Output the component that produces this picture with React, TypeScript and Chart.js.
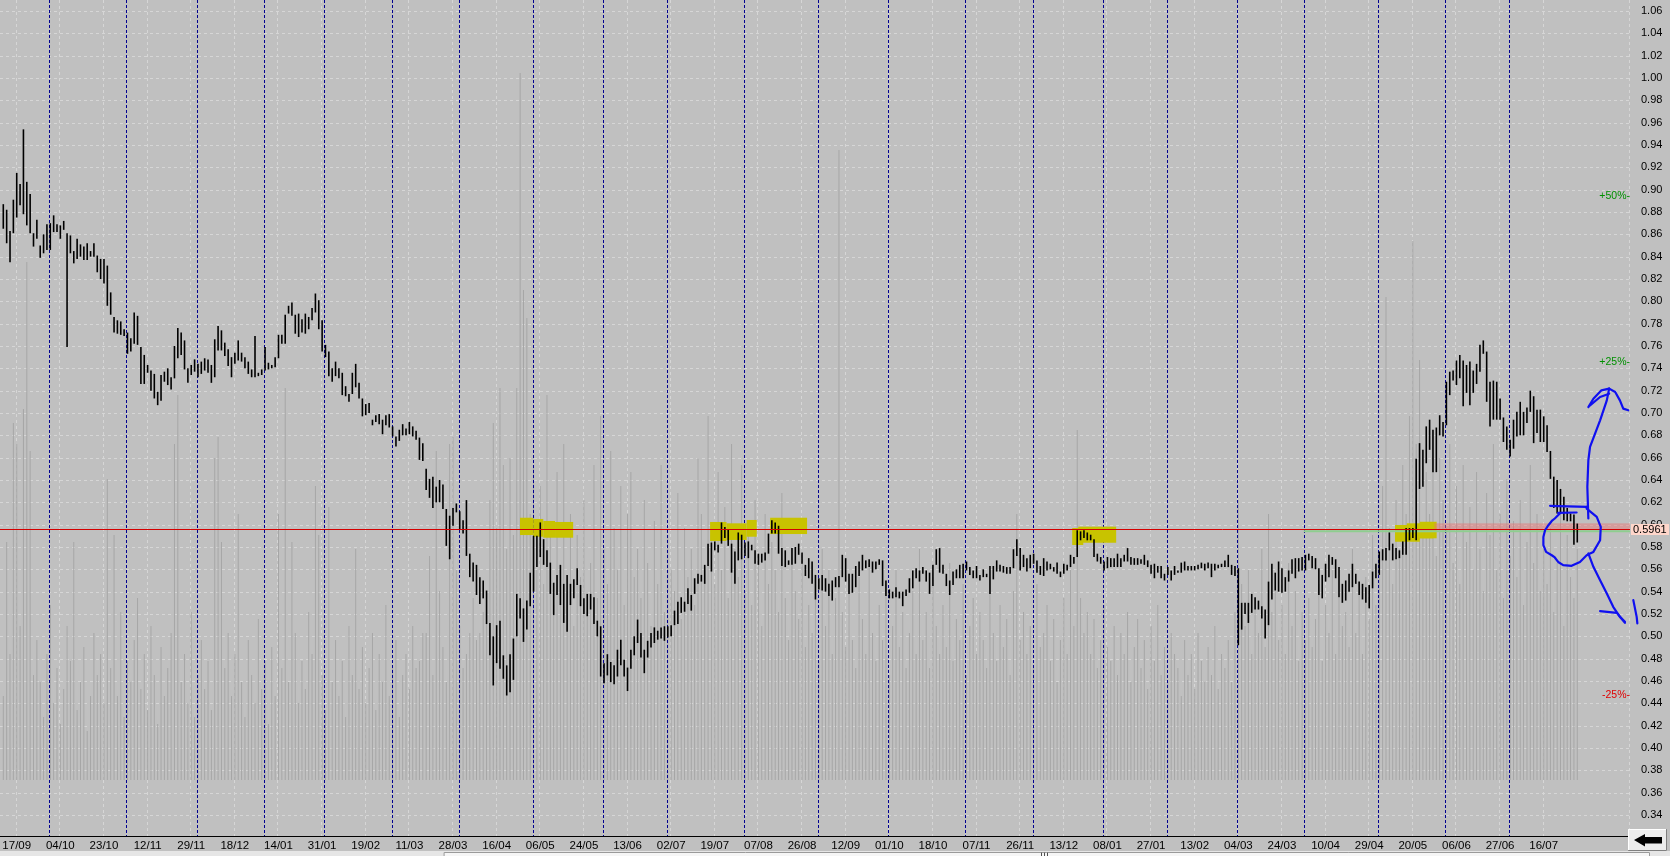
import { useEffect, useRef } from 'react';
import { Chart, registerables } from 'chart.js';

Chart.register(...registerables);

const FONT = "'Liberation Sans', Arial, sans-serif";

// ---- daily bar highs ----
const highs: number[] = [
  0.887,0.882,0.863,0.891,0.915,0.905,0.954,0.907,0.896,0.861,
  0.873,0.850,0.860,0.869,0.870,0.877,0.869,0.868,0.872,0.861,
  0.859,0.845,0.856,0.851,0.849,0.852,0.845,0.852,0.841,0.838,
  0.838,0.832,0.808,0.786,0.783,0.782,0.775,0.772,0.767,0.790,
  0.787,0.759,0.752,0.743,0.738,0.735,0.719,0.734,0.737,0.740,
  0.732,0.760,0.776,0.772,0.765,0.740,0.743,0.748,0.744,0.746,
  0.749,0.748,0.743,0.766,0.778,0.774,0.763,0.757,0.750,0.754,
  0.765,0.754,0.750,0.746,0.739,0.769,0.736,0.739,0.759,0.745,
  0.743,0.750,0.770,0.770,0.788,0.796,0.799,0.788,0.789,0.784,
  0.789,0.786,0.794,0.807,0.801,0.783,0.761,0.755,0.740,0.746,
  0.740,0.736,0.724,0.717,0.736,0.744,0.727,0.713,0.708,0.709,
  0.694,0.698,0.699,0.694,0.698,0.699,0.688,0.679,0.685,0.690,
  0.686,0.692,0.688,0.684,
  0.678,0.673,0.650,0.641,0.643,0.634,0.640,0.636,0.614,0.608,
  0.615,0.619,0.612,0.604,0.622,0.574,0.566,0.564,0.553,0.550,
  0.541,0.512,0.500,0.510,0.514,0.483,0.474,0.484,0.498,0.538,
  0.534,0.525,0.532,0.557,0.590,0.590,0.602,0.587,0.577,0.566,
  0.548,0.555,0.564,0.547,0.555,0.547,0.551,0.561,0.546,0.534,
  0.538,0.538,0.535,0.514,0.509,0.476,0.484,0.477,0.474,0.488,
  0.497,0.479,0.472,0.488,0.500,0.515,0.503,0.488,0.496,0.503,
  0.508,0.505,0.508,0.509,0.509,0.510,0.523,0.531,0.535,0.531,
  0.543,0.537,0.552,0.556,0.555,0.564,0.583,0.584,0.585,0.582,
  0.602,0.598,0.596,0.583,0.576,0.593,0.591,0.584,0.585,0.582,
  0.577,0.574,0.574,0.575,0.592,0.604,0.602,0.599,0.579,0.577,
  0.568,0.579,0.580,
  0.583,0.575,0.564,0.570,0.567,0.555,0.552,0.555,0.552,0.547,
  0.550,0.553,0.554,0.573,0.570,0.556,0.556,0.563,0.567,0.573,
  0.568,0.569,0.567,0.567,0.569,0.568,0.550,0.542,0.540,0.544,
  0.540,0.540,0.542,0.552,0.559,0.561,0.559,0.562,0.559,0.557,
  0.564,0.578,0.579,0.564,0.556,0.550,0.558,0.560,0.564,0.565,
  0.567,0.562,0.559,0.563,0.555,0.560,0.556,0.563,0.563,0.568,
  0.564,0.563,0.562,0.562,0.578,0.587,0.579,0.573,0.570,0.573,
  0.574,0.568,0.563,0.570,0.567,0.565,0.562,0.566,0.558,0.565,
  0.564,0.573,0.571,0.595,0.594,0.595,0.593,0.591,0.587,0.574,
  0.571,0.567,0.571,0.570,0.570,0.574,0.570,0.573,0.579,0.571,
  0.570,0.570,0.569,0.573,0.568,0.564,0.565,0.563,0.563,0.556,
  0.562,0.559,0.563,0.559,0.566,0.567,0.563,0.563,0.563,0.564,
  0.566,0.565,0.566,0.565,
  0.565,0.564,0.565,0.568,0.573,0.564,0.563,0.561,0.530,0.530,
  0.530,0.538,0.535,0.532,0.527,0.524,0.549,0.565,0.557,0.567,
  0.561,0.553,0.559,0.569,0.570,0.570,0.571,0.573,0.574,0.572,
  0.570,0.561,0.555,0.565,0.573,0.571,0.569,0.562,0.547,0.550,
  0.556,0.565,0.556,0.549,0.547,0.544,0.546,0.558,0.565,0.576,
  0.578,0.579,0.593,0.583,0.579,0.577,0.585,0.597,0.597,0.597,
  0.659,0.673,0.667,0.688,0.694,0.685,0.687,0.698,0.692,0.728,
  0.737,0.738,0.747,0.752,0.747,0.743,0.746,0.738,0.744,0.761,
  0.765,0.755,0.728,0.729,0.728,0.713,0.696,0.688,0.676,0.694,
  0.701,0.710,0.701,0.705,0.720,0.715,0.703,0.703,0.697,0.689,
  0.666,0.643,0.640,0.632,0.625,0.615,0.610,0.609,0.601,
];

// ---- daily bar lows ----
const lows: number[] = [
  0.865,0.852,0.835,0.861,0.875,0.886,0.878,0.868,0.861,0.849,
  0.856,0.839,0.843,0.846,0.846,0.862,0.862,0.856,0.864,0.759,
  0.843,0.834,0.838,0.840,0.837,0.837,0.840,0.840,0.826,0.820,
  0.816,0.796,0.788,0.772,0.771,0.770,0.769,0.753,0.755,0.762,
  0.761,0.726,0.726,0.736,0.720,0.713,0.707,0.711,0.728,0.725,
  0.721,0.731,0.749,0.752,0.739,0.727,0.734,0.737,0.732,0.735,
  0.738,0.736,0.727,0.732,0.756,0.756,0.751,0.742,0.732,0.744,
  0.747,0.746,0.740,0.735,0.732,0.732,0.733,0.734,0.738,0.739,
  0.740,0.741,0.749,0.762,0.762,0.789,0.787,0.771,0.768,0.772,
  0.771,0.775,0.783,0.790,0.775,0.755,0.750,0.733,0.728,0.733,
  0.731,0.716,0.715,0.710,0.717,0.723,0.713,0.697,0.698,0.700,
  0.689,0.692,0.690,0.681,0.689,0.687,0.679,0.670,0.675,0.680,
  0.680,0.681,0.679,0.676,
  0.658,0.657,0.631,0.624,0.615,0.620,0.620,0.614,0.581,0.569,
  0.599,0.611,0.596,0.592,0.572,0.553,0.549,0.537,0.529,0.534,
  0.511,0.483,0.456,0.476,0.471,0.462,0.447,0.450,0.461,0.500,
  0.516,0.495,0.506,0.527,0.540,0.562,0.571,0.564,0.562,0.538,
  0.519,0.537,0.528,0.512,0.504,0.528,0.534,0.546,0.527,0.520,
  0.518,0.524,0.511,0.500,0.464,0.458,0.465,0.459,0.457,0.464,
  0.474,0.464,0.451,0.471,0.483,0.494,0.481,0.467,0.481,0.490,
  0.494,0.497,0.498,0.496,0.499,0.500,0.510,0.511,0.521,0.522,
  0.529,0.523,0.538,0.547,0.549,0.547,0.563,0.558,0.577,0.575,
  0.583,0.588,0.581,0.557,0.547,0.568,0.569,0.572,0.570,0.577,
  0.565,0.564,0.566,0.568,0.574,0.592,0.592,0.574,0.563,0.562,
  0.564,0.564,0.565,
  0.573,0.565,0.554,0.552,0.547,0.533,0.542,0.541,0.540,0.536,
  0.532,0.544,0.544,0.553,0.549,0.538,0.539,0.544,0.554,0.559,
  0.561,0.562,0.557,0.560,0.564,0.545,0.536,0.534,0.534,0.535,
  0.534,0.527,0.536,0.539,0.543,0.552,0.549,0.556,0.549,0.538,
  0.545,0.564,0.557,0.556,0.545,0.537,0.546,0.552,0.552,0.552,
  0.559,0.555,0.552,0.552,0.550,0.553,0.553,0.538,0.551,0.558,
  0.558,0.557,0.556,0.556,0.561,0.572,0.559,0.562,0.558,0.561,
  0.565,0.557,0.555,0.554,0.559,0.560,0.558,0.556,0.553,0.556,
  0.559,0.562,0.565,0.571,0.586,0.588,0.586,0.586,0.571,0.567,
  0.565,0.559,0.561,0.562,0.562,0.562,0.562,0.567,0.567,0.564,
  0.564,0.564,0.565,0.564,0.562,0.556,0.552,0.557,0.552,0.550,
  0.555,0.550,0.555,0.557,0.557,0.559,0.559,0.559,0.559,0.560,
  0.561,0.559,0.561,0.553,
  0.559,0.561,0.562,0.562,0.562,0.555,0.554,0.492,0.506,0.520,
  0.512,0.521,0.524,0.524,0.516,0.498,0.510,0.533,0.541,0.540,
  0.539,0.540,0.549,0.556,0.552,0.558,0.559,0.559,0.568,0.561,
  0.560,0.537,0.534,0.549,0.553,0.564,0.552,0.535,0.530,0.532,
  0.540,0.544,0.547,0.537,0.533,0.530,0.525,0.543,0.552,0.555,
  0.568,0.568,0.577,0.568,0.569,0.570,0.573,0.573,0.586,0.588,
  0.586,0.632,0.634,0.655,0.667,0.647,0.647,0.680,0.679,0.689,
  0.716,0.729,0.725,0.731,0.706,0.718,0.707,0.718,0.726,0.737,
  0.753,0.710,0.688,0.694,0.694,0.694,0.674,0.667,0.661,0.668,
  0.679,0.680,0.680,0.691,0.701,0.673,0.682,0.674,0.674,0.665,
  0.641,0.615,0.610,0.610,0.604,0.603,0.603,0.582,0.584,
];

// ---- daily volume (millions of shares) ----
const volumes: number[] = [
  12,34,18,51,48,22,53,74,47,15, 20,14,9,18,25,11,16,8,13,22,
  17,34,10,14,19,7,12,21,15,18, 11,43,16,35,12,24,9,17,14,20,
  26,13,18,10,22,15,8,19,12,16, 21,48,55,14,18,11,24,9,15,20,
  13,17,10,46,49,34,16,21,12,18, 38,14,9,20,15,11,23,13,17,8,
  19,12,38,16,56,14,34,21,11,17, 13,24,18,42,35,15,10,39,14,20,
  12,17,9,22,15,33,13,19,11,16, 21,10,18,14,25,12,16,20,9,15,
  18,13,22,16,17,21,21,32,15,47, 27,19,14,48,49,30,22,16,18,21,
  26,20,21,24,24,40,51,36,56,45, 33,46,35,56,101,70,66,38,45,30,
  42,28,55,36,25,44,30,48,27,38, 22,35,29,40,24,31,45,26,52,33,
  28,47,36,30,42,25,38,44,29,33, 26,40,31,22,37,28,45,24,35,30,
  27,41,23,36,29,33,25,46,38,30, 52,35,28,44,30,39,26,48,33,29,
  45,27,36,25,40,31,22,38,28,34, 30,24,41,26,20,33,27,23,31,19,
  25,21,28,17,33,22,30,18,26,90, 24,19,27,20,16,29,23,18,31,21,
  17,25,20,28,15,22,30,19,24,16, 21,27,18,33,20,24,16,29,22,18,
  25,19,31,17,23,20,28,15,22,26, 18,24,20,16,29,21,17,25,19,23,
  15,27,38,20,24,18,22,16,28,19, 21,25,17,23,14,20,26,18,30,22,
  50,26,21,24,18,23,16,20,25,19, 17,22,15,21,18,24,14,19,23,16,
  20,13,22,17,25,15,19,14,21,18, 16,12,20,15,18,13,21,17,14,19,
  15,22,13,18,16,20,14,24,40,28, 22,30,18,26,21,33,19,38,24,27,
  20,25,18,31,22,27,17,24,20,26, 19,23,28,17,25,21,30,18,26,22,
  24,19,33,21,27,18,29,23,35,25, 30,42,69,36,28,40,33,45,38,52,
  77,48,60,35,44,38,50,32,46,40, 36,48,31,42,28,45,34,39,30,44,
  33,27,41,35,48,30,38,26,43,32, 37,29,40,25,34,45,31,38,27,33,
  28,36,24,31,40,22,35,29,26,33,
];

// ---- axis labels ----
const xTickLabels = [
  '17/09','04/10','23/10','12/11','29/11','18/12','14/01','31/01','19/02','11/03',
  '28/03','16/04','06/05','24/05','13/06','02/07','19/07','07/08','26/08','12/09',
  '01/10','18/10','07/11','26/11','13/12','08/01','27/01','13/02','04/03','24/03',
  '10/04','29/04','20/05','06/06','27/06','16/07',
];
const FIRST_LABEL_BAR = 4;
const BARS_PER_LABEL = 13;
const yTickLabels = [
  '0.34','0.36','0.38','0.40','0.42','0.44','0.46','0.48','0.50','0.52',
  '0.54','0.56','0.58','0.60','0.62','0.64','0.66','0.68','0.70','0.72',
  '0.74','0.76','0.78','0.80','0.82','0.84','0.86','0.88','0.90','0.92',
  '0.94','0.96','0.98','1.00','1.02','1.04','1.06',
];

// first bar of each month (month separator lines)
const monthStartBars = [14,37,58,78,96,116,136,158,179,198,221,243,264,287,307,328,347,368,388,410,430,449];

// reference price and percent bands
const refPrice = 0.5961;
const percentBands = [50, 25, -25];
const greenLevel = 0.594;
const greenFromBar = 387.5;
const pinkBand = { fromBar: 426.4, lo: 0.5958, hi: 0.6012 };

// yellow highlighter marks: [barFrom, barTo, priceLo, priceHi]
const highlights: number[][][] = [
  [[153.96,157.9,0.5907,0.6062],[157.9,160.9,0.5892,0.6051],[160.9,164.4,0.5883,0.6033],[164.4,169.8,0.5883,0.6024]],
  [[210.6,215.5,0.5854,0.6024],[215.5,221.5,0.5863,0.6012],[221.5,224.5,0.5892,0.6042]],
  [[228.5,239.5,0.5916,0.6062]],
  [[318.5,321.8,0.5818,0.5970],[320.3,331.6,0.5838,0.5982]],
  [[414.7,422.1,0.5847,0.5997],[418.2,426.1,0.5878,0.6012],[422.1,427.1,0.5878,0.6026]],
];

// blue hand-drawn strokes: [bar, price]
const scribbles: number[][][] = [
  [[460.9,0.6168],[471.8,0.6159]],
  [[463.3,0.6105],[468.8,0.6109]],
  [[463.8,0.6100],[462.3,0.6055],[461.4,0.6033],[460.4,0.5995],[459.4,0.5950],[458.9,0.5890],[458.9,0.5816],[459.7,0.5756],[461.4,0.5726],[462.3,0.5706],[463.3,0.5666],[464.8,0.5637],[467.3,0.5631],[469.8,0.5666],[471.8,0.5726],[472.8,0.5742],[473.8,0.5756],[475.8,0.5861],[476.0,0.5980],[474.8,0.6069],[471.8,0.6144],[471.8,0.6159]],
  [[472.3,0.6055],[472.0,0.6338],[472.3,0.6576],[472.8,0.6696],[474.3,0.6815],[475.8,0.6934],[477.8,0.7113],[478.5,0.7218]],
  [[478.5,0.7218],[476.2,0.7203],[473.8,0.7128],[472.3,0.7053]],
  [[478.5,0.7173],[475.8,0.7143],[472.8,0.7069]],
  [[478.5,0.7218],[480.3,0.7188],[481.7,0.7113],[482.7,0.7039],[484.2,0.7024]],
  [[472.3,0.5742],[473.8,0.5622],[475.8,0.5503],[477.8,0.5384],[479.7,0.5264],[481.7,0.5174],[483.2,0.5130]],
  [[475.8,0.5225],[480.8,0.5210],[483.2,0.5121]],
  [[485.7,0.5324],[486.7,0.5174],[486.9,0.5115]],
];

const X_MIN = -0.983;
const X_MAX = 484.71;
const Y_MIN = 0.32119;
const Y_MAX = 1.06983;

const decor = {
  id: 'decor',
  beforeDraw(chart: any) {
    const { ctx, width, height } = chart;
    ctx.save();
    ctx.fillStyle = '#c0c0c0';
    ctx.fillRect(0, 0, width, height);
    ctx.restore();
  },
  beforeDatasetsDraw(chart: any) {
    const { ctx, chartArea: a, scales } = chart;
    ctx.save();
    ctx.strokeStyle = '#d6d6d6';
    ctx.lineWidth = 1;
    ctx.setLineDash([3, 3]);
    ctx.beginPath();
    yTickLabels.forEach((t) => {
      const y = Math.round(scales.y.getPixelForValue(parseFloat(t))) + 0.5;
      ctx.moveTo(a.left, y);
      ctx.lineTo(a.right, y);
    });
    xTickLabels.forEach((_, k) => {
      const x = Math.round(scales.x.getPixelForValue(FIRST_LABEL_BAR + k * BARS_PER_LABEL)) - 0.5;
      ctx.moveTo(x, a.top);
      ctx.lineTo(x, a.bottom);
    });
    ctx.moveTo(a.right - 0.5, a.top);
    ctx.lineTo(a.right - 0.5, a.bottom);
    ctx.stroke();
    ctx.restore();
  },
  beforeDatasetDraw(chart: any, args: any) {
    if (args.index !== 1) return;
    const { ctx, chartArea: a, scales } = chart;
    const X = (v: number) => scales.x.getPixelForValue(v);
    const Y = (v: number) => scales.y.getPixelForValue(v);
    ctx.save();
    // month separators
    ctx.strokeStyle = '#000090';
    ctx.lineWidth = 1;
    ctx.setLineDash([3, 2]);
    ctx.beginPath();
    monthStartBars.forEach((m) => {
      const x = Math.round(X(m - 0.3)) + 0.5;
      ctx.moveTo(x, a.top);
      ctx.lineTo(x, a.bottom);
    });
    ctx.stroke();
    ctx.setLineDash([]);
    // yellow highlighter
    ctx.fillStyle = '#c8c300';
    highlights.forEach((h) => h.forEach(([x0, x1, lo, hi]) => {
      ctx.fillRect(X(x0), Y(hi), X(x1) - X(x0), Y(lo) - Y(hi));
    }));
    // pink band
    ctx.fillStyle = 'rgba(236,112,112,0.45)';
    ctx.fillRect(X(pinkBand.fromBar), Y(pinkBand.hi), a.right - X(pinkBand.fromBar), Y(pinkBand.lo) - Y(pinkBand.hi));
    // green line
    ctx.strokeStyle = '#8fcd8f';
    ctx.lineWidth = 2;
    ctx.beginPath();
    ctx.moveTo(X(greenFromBar), Y(greenLevel));
    ctx.lineTo(a.right, Y(greenLevel));
    ctx.stroke();
    ctx.restore();
  },
  afterDatasetsDraw(chart: any) {
    const { ctx, chartArea: a, scales } = chart;
    ctx.save();
    ctx.strokeStyle = '#d40000';
    ctx.lineWidth = 1;
    const y = Math.round(scales.y.getPixelForValue(refPrice)) + 0.5;
    ctx.beginPath();
    ctx.moveTo(a.left, y);
    ctx.lineTo(a.right, y);
    ctx.stroke();
    ctx.restore();
  },
  afterDraw(chart: any) {
    const { ctx, chartArea: a, scales } = chart;
    const X = (v: number) => scales.x.getPixelForValue(v);
    const Y = (v: number) => scales.y.getPixelForValue(v);
    ctx.save();
    // x axis line
    ctx.strokeStyle = '#000';
    ctx.lineWidth = 1;
    ctx.beginPath();
    ctx.moveTo(0, a.bottom + 0.5);
    ctx.lineTo(a.right - 2, a.bottom + 0.5);
    ctx.stroke();
    // percent labels
    ctx.font = `10.5px ${FONT}`;
    ctx.textAlign = 'right';
    ctx.textBaseline = 'middle';
    percentBands.forEach((p) => {
      ctx.fillStyle = p > 0 ? '#009000' : '#e00000';
      const txt = `${p > 0 ? '+' : ''}${p}%-`;
      ctx.fillText(txt, a.right, Y(refPrice * (1 + p / 100)));
    });
    // reference price label
    const ry = Y(refPrice);
    ctx.fillStyle = '#ffd6ca';
    ctx.fillRect(a.right + 1, Math.round(ry) - 5, 38, 11);
    ctx.fillStyle = '#000';
    ctx.textAlign = 'left';
    ctx.font = `11px ${FONT}`;
    ctx.fillText(refPrice.toFixed(4), a.right + 3, ry + 0.5);
    // blue hand-drawn strokes
    ctx.strokeStyle = '#1010f0';
    ctx.lineWidth = 2.2;
    ctx.lineJoin = 'round';
    ctx.lineCap = 'round';
    scribbles.forEach((s) => {
      ctx.beginPath();
      s.forEach(([b, p], i) => (i === 0 ? ctx.moveTo(X(b), Y(p)) : ctx.lineTo(X(b), Y(p))));
      ctx.stroke();
    });
    // scrollbar strip
    ctx.fillStyle = '#e6e6e6';
    ctx.fillRect(0, 851, 1670, 5);
    ctx.fillStyle = '#f6f6f6';
    ctx.fillRect(444, 852, 1206, 4);
    ctx.strokeStyle = '#9a9a9a';
    ctx.lineWidth = 1;
    ctx.strokeRect(444.5, 852.5, 1205, 6);
    ctx.strokeStyle = '#505050';
    ctx.beginPath();
    [1041, 1044, 1047].forEach((gx) => { ctx.moveTo(gx + 0.5, 853); ctx.lineTo(gx + 0.5, 856); });
    ctx.stroke();
    // arrow button
    ctx.fillStyle = '#ececec';
    ctx.fillRect(1628, 829, 39, 22);
    ctx.strokeStyle = '#ffffff';
    ctx.beginPath();
    ctx.moveTo(1628.5, 850.5); ctx.lineTo(1628.5, 829.5); ctx.lineTo(1666.5, 829.5);
    ctx.stroke();
    ctx.strokeStyle = '#808080';
    ctx.beginPath();
    ctx.moveTo(1666.5, 829.5); ctx.lineTo(1666.5, 850.5); ctx.lineTo(1628.5, 850.5);
    ctx.stroke();
    ctx.fillStyle = '#000';
    ctx.beginPath();
    ctx.moveTo(1634, 840);
    ctx.lineTo(1645, 834);
    ctx.lineTo(1645, 837);
    ctx.lineTo(1662, 837);
    ctx.lineTo(1662, 843.5);
    ctx.lineTo(1645, 843.5);
    ctx.lineTo(1645, 846.5);
    ctx.closePath();
    ctx.fill();
    ctx.restore();
  },
};

export default function App() {
  const ref = useRef<HTMLCanvasElement>(null);
  useEffect(() => {
    document.body.style.margin = '0';
    document.body.style.background = '#c0c0c0';
    const canvas = ref.current;
    if (!canvas) return;
    const chart = new Chart(canvas, {
      type: 'bar',
      data: {
        datasets: [
          {
            label: 'Volume',
            data: volumes.map((v, i) => ({ x: i, y: v })),
            yAxisID: 'yv',
            backgroundColor: '#a6a6a6',
            barThickness: 1,
            grouped: false,
            inflateAmount: 0,
            order: 2,
          } as any,
          {
            label: 'Price',
            data: highs.map((h, i) => ({ x: i, y: [lows[i], h] })),
            yAxisID: 'y',
            backgroundColor: '#000000',
            barThickness: 1.6,
            grouped: false,
            inflateAmount: 0,
            minBarLength: 2,
            order: 1,
          } as any,
        ],
      },
      options: {
        animation: false,
        responsive: false,
        maintainAspectRatio: false,
        devicePixelRatio: 1,
        events: [],
        layout: { padding: 0 },
        plugins: { legend: { display: false }, tooltip: { enabled: false } },
        scales: {
          x: {
            type: 'linear',
            position: 'bottom',
            min: X_MIN,
            max: X_MAX,
            offset: false,
            grid: { display: false },
            border: { display: false },
            afterBuildTicks: (s: any) => {
              s.ticks = xTickLabels.map((_, k) => ({ value: FIRST_LABEL_BAR + k * BARS_PER_LABEL }));
            },
            afterFit: (s: any) => {
              s.height = 20;
              s.paddingLeft = 0;
              s.paddingRight = 0;
            },
            ticks: {
              autoSkip: false,
              maxRotation: 0,
              minRotation: 0,
              padding: -5,
              color: '#000',
              font: { family: FONT, size: 11.5 },
              callback: (_v: any, i: number) => xTickLabels[i],
            },
          },
          y: {
            type: 'linear',
            position: 'right',
            min: Y_MIN,
            max: Y_MAX,
            grid: { display: false },
            border: { display: false },
            afterBuildTicks: (s: any) => {
              s.ticks = yTickLabels.map((t) => ({ value: parseFloat(t) }));
            },
            afterFit: (s: any) => {
              s.width = 40;
              s.paddingTop = 0;
              s.paddingBottom = 0;
            },
            ticks: {
              padding: 3,
              color: '#000',
              font: { family: FONT, size: 11 },
              callback: (_v: any, i: number) => yTickLabels[i],
            },
          },
          yv: {
            type: 'linear',
            display: false,
            min: -8,
            max: 111.43,
          },
        },
      } as any,
      plugins: [decor],
    });
    return () => chart.destroy();
  }, []);
  return <canvas ref={ref} width={1670} height={856} style={{ display: 'block', width: 1670, height: 856 }} />;
}
